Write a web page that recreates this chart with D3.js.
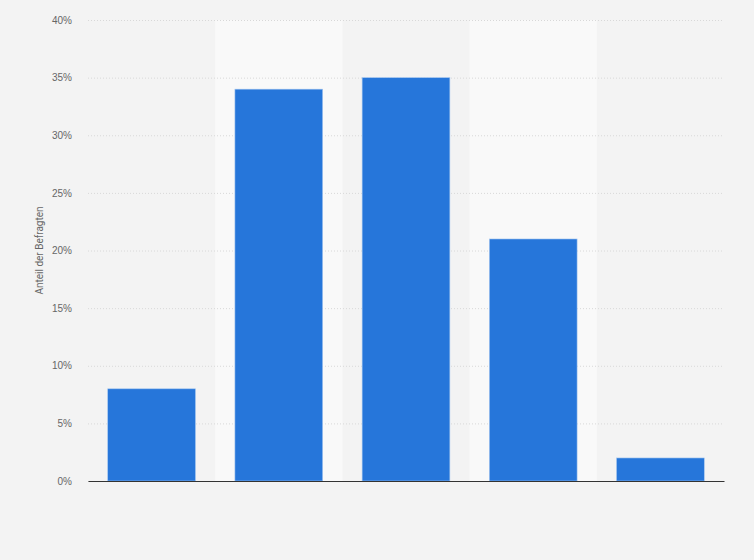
<!DOCTYPE html>
<html>
<head>
<meta charset="utf-8">
<script src="https://cdn.jsdelivr.net/npm/d3@7"></script>
<style>
  body { margin: 0; background: #f3f3f3; }
  svg { display: block; font-family: Roboto, "Liberation Sans", Arial, sans-serif; }
</style>
</head>
<body>
<svg></svg>
<script>
// categories are not labelled in the chart
let categories = ["Gruppe 1", "Gruppe 2", "Gruppe 3", "Gruppe 4", "Gruppe 5"];
let shares = [8, 34, 35, 21, 2];
let yTicks = [0, 5, 10, 15, 20, 25, 30, 35, 40];
let yTitle = "Anteil der Befragten";

let width = 754;
let height = 560;
let margin = { top: 20, right: 30, bottom: 79, left: 88 };

let svg = d3.select("svg").attr("width", width).attr("height", height);

svg.append("rect")
  .attr("width", width)
  .attr("height", height)
  .attr("fill", "#f3f3f3");

let xScale = d3.scaleBand()
  .domain(categories)
  .range([margin.left, width - margin.right])
  .paddingInner(0.31)
  .paddingOuter(0.155);

let colScale = d3.scaleBand()
  .domain(categories)
  .range([margin.left, width - margin.right]);

let yScale = d3.scaleLinear()
  .domain([0, 40])
  .range([height - margin.bottom, margin.top]);

// alternating column shading
svg.append("g")
  .selectAll("rect")
  .data(categories.filter((d, i) => i % 2 == 1))
  .enter()
  .append("rect")
  .attr("x", (d) => colScale(d))
  .attr("y", margin.top)
  .attr("width", colScale.bandwidth())
  .attr("height", height - margin.bottom - margin.top)
  .attr("fill", "#f9f9f9");

// grid + y labels
let yAxis = d3.axisLeft(yScale)
  .tickValues(yTicks)
  .tickSize(-(width - margin.left - margin.right))
  .tickPadding(16)
  .tickFormat((d) => d + "%");

let yAxisG = svg.append("g")
  .attr("transform", "translate(" + margin.left + ",0)")
  .call(yAxis);

yAxisG.select(".domain").remove();
yAxisG.selectAll(".tick line")
  .attr("stroke", "#d8d8d8")
  .attr("stroke-dasharray", "1,2");
yAxisG.selectAll(".tick text")
  .attr("fill", "#666")
  .attr("font-size", "10px");

// bars
svg.append("g")
  .selectAll("rect")
  .data(shares)
  .enter()
  .append("rect")
  .attr("x", (d, i) => xScale(categories[i]))
  .attr("y", (d) => yScale(d))
  .attr("width", xScale.bandwidth())
  .attr("height", (d) => yScale(0) - yScale(d))
  .attr("fill", "#2676da")
  .attr("stroke", "#a9c9f0")
  .attr("stroke-width", 0.6);

// baseline
let xAxis = d3.axisBottom(xScale).tickSize(0).tickFormat("");
let xAxisG = svg.append("g")
  .attr("transform", "translate(0," + yScale(0) + ")")
  .call(xAxis);
xAxisG.select(".domain")
  .attr("stroke", "#333")
  .attr("stroke-width", 1.2);

// axis title
svg.append("text")
  .attr("transform", "translate(43," + (margin.top + (height - margin.bottom - margin.top) / 2) + ") rotate(-90)")
  .attr("text-anchor", "middle")
  .attr("fill", "#666")
  .attr("font-size", "10px")
  .text(yTitle);
</script>
</body>
</html>
